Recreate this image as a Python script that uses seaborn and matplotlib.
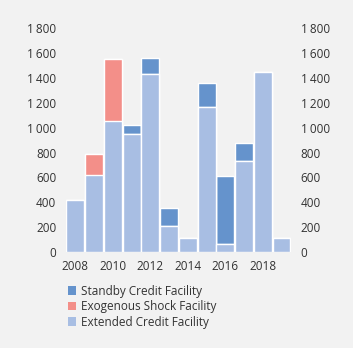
import matplotlib
matplotlib.use("Agg")
import matplotlib.pyplot as plt
import seaborn as sns
import pandas as pd
from matplotlib.patches import Patch

years = [2008, 2009, 2010, 2011, 2012, 2013, 2014, 2015, 2016, 2017, 2018, 2019]
ecf = [415, 615, 1050, 945, 1430, 205, 110, 1170, 60, 735, 1450, 115]
esf = [0, 170, 500, 0, 0, 0, 0, 0, 0, 0, 0, 0]
scf = [0, 0, 0, 80, 130, 150, 0, 190, 550, 145, 0, 0]
series_names = ["Standby Credit Facility", "Exogenous Shock Facility", "Extended Credit Facility"]
yticks = [0, 200, 400, 600, 800, 1000, 1200, 1400, 1600, 1800]
xtick_years = [2008, 2010, 2012, 2014, 2016, 2018]

c_scf = "#6593cc"
c_esf = "#f38f89"
c_ecf = "#a8bee3"
bg = "#f2f2f2"

sns.set_style("white")
plt.rcParams['font.family'] = ['Open Sans', 'DejaVu Sans']

df = pd.DataFrame({"year": years, "ecf": ecf, "esf": esf, "scf": scf})
df["l1"] = df["ecf"]
df["l2"] = df["ecf"] + df["esf"]
df["l3"] = df["l2"] + df["scf"]
df["year"] = df["year"].astype(str)

fig = plt.figure(figsize=(3.53, 3.48), dpi=100, facecolor=bg)
ax = fig.add_axes([0.187, 0.276, 0.637, 0.643], facecolor=bg)

for col, color in [("l3", c_scf), ("l2", c_esf), ("l1", c_ecf)]:
    sns.barplot(data=df, x="year", y=col, color=color, ax=ax, width=0.96,
                edgecolor="white", linewidth=1.0, saturation=1, errorbar=None)

ax.set_xlim(-0.5, len(years) - 0.5)
ax.set_ylim(0, 1800)
ax.set_xlabel("")
ax.set_ylabel("")
pos = [years.index(y) for y in xtick_years]
ax.set_xticks(pos)
ax.set_xticklabels([str(y) for y in xtick_years])
fmt = lambda v: f"{v:,}".replace(",", "\u2009")
ax.set_yticks(yticks)
ax.set_yticklabels([fmt(v) for v in yticks])
ax.tick_params(axis="x", length=0, labelsize=8.5, colors="#333333", pad=6)
ax.tick_params(axis="y", length=0, labelsize=8.5, colors="#333333", pad=7)
ax.tick_params(axis="y", labelright=True, right=False)
for s in ax.spines.values():
    s.set_visible(False)

handles = [Patch(facecolor=c, edgecolor="none") for c in (c_scf, c_esf, c_ecf)]
leg = fig.legend(handles, series_names, loc="upper left", bbox_to_anchor=(0.178, 0.195),
                 frameon=False, fontsize=8.5, handlelength=0.75, handleheight=0.75,
                 handletextpad=0.35, labelspacing=0.2, borderaxespad=0)
for t in leg.get_texts():
    t.set_color("#333333")

fig.savefig("out.png", dpi=100, facecolor=bg)
